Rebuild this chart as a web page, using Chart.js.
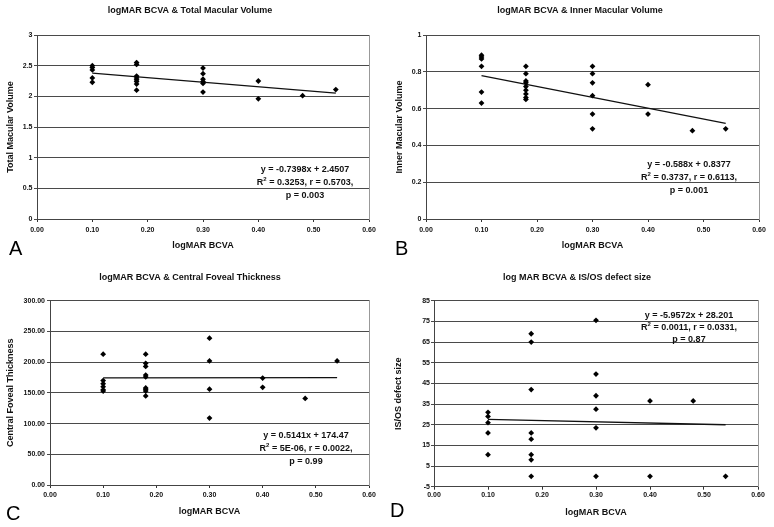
<!DOCTYPE html>
<html>
<head>
<meta charset="utf-8">
<script src="https://cdn.jsdelivr.net/npm/chart.js@4/dist/chart.umd.min.js"></script>
<style>
    body { margin: 0; background: #fff; }
    #wrap { position: relative; width: 774px; height: 527px; background: #fff; overflow: hidden; }
    canvas { position: absolute; }
    .eq {
        position: absolute; width: 160px; text-align: center;
        font: bold 9px 'Liberation Sans', Arial, sans-serif; line-height: 13px; color: #111;
    }
    .eq sup { font-size: 6px; line-height: 0; }
    .letter { position: absolute; font: 20px 'Liberation Sans', Arial, sans-serif; line-height: 20px; color: #000; }
</style>
</head>
<body>
<div id="wrap">
    <canvas id="chartA" width="387" height="263" style="left:0;top:0"></canvas>
    <canvas id="chartB" width="387" height="263" style="left:387px;top:0"></canvas>
    <canvas id="chartC" width="387" height="263" style="left:0;top:264px"></canvas>
    <canvas id="chartD" width="387" height="263" style="left:387px;top:264px"></canvas>

    <div class="eq" style="left:225px;top:163px">y = -0.7398x + 2.4507<br>R<sup>2</sup> = 0.3253, r = 0.5703,<br>p = 0.003</div>
    <div class="eq" style="left:609px;top:158px">y = -0.588x + 0.8377<br>R<sup>2</sup> = 0.3737, r = 0.6113,<br>p = 0.001</div>
    <div class="eq" style="left:226px;top:429px">y = 0.5141x + 174.47<br>R<sup>2</sup> = 5E-06, r = 0.0022,<br>p = 0.99</div>
    <div class="eq" style="left:609px;top:309px;line-height:12px">y = -5.9572x + 28.201<br>R<sup>2</sup> = 0.0011, r = 0.0331,<br>p = 0.87</div>

    <div class="letter" style="left:9px;top:238px">A</div>
    <div class="letter" style="left:395px;top:238px">B</div>
    <div class="letter" style="left:6px;top:503px">C</div>
    <div class="letter" style="left:390px;top:500px">D</div>
</div>
<script>
const xA = [0.10,0.10,0.10,0.10,0.10, 0.18,0.18,0.18,0.18,0.18,0.18,0.18,0.18, 0.30,0.30,0.30,0.30,0.30,0.30, 0.40,0.40, 0.48, 0.54]
const totalMacularVolume = [2.50,2.47,2.43,2.30,2.23, 2.55,2.52,2.33,2.30,2.27,2.24,2.20,2.10, 2.46,2.37,2.28,2.24,2.21,2.07, 2.25,1.96, 2.01, 2.11]

const xB = [0.10,0.10,0.10,0.10,0.10,0.10, 0.18,0.18,0.18,0.18,0.18,0.18,0.18,0.18,0.18, 0.30,0.30,0.30,0.30,0.30,0.30, 0.40,0.40, 0.48, 0.54]
const innerMacularVolume = [0.89,0.88,0.87,0.83,0.69,0.63, 0.83,0.79,0.75,0.74,0.72,0.70,0.68,0.66,0.65, 0.83,0.79,0.74,0.67,0.57,0.49, 0.73,0.57, 0.48, 0.49]

const xC = [0.10,0.10,0.10,0.10,0.10,0.10, 0.18,0.18,0.18,0.18,0.18,0.18,0.18,0.18,0.18, 0.30,0.30,0.30,0.30, 0.40,0.40, 0.48, 0.54]
const centralFovealThickness = [213,170,165,160,155,153, 213,198,193,179,176,158,156,153,145, 239,202,156,109, 174,159, 141, 202]

const xD = [0.10,0.10,0.10,0.10,0.10, 0.18,0.18,0.18,0.18,0.18,0.18,0.18,0.18, 0.30,0.30,0.30,0.30,0.30,0.30, 0.40,0.40, 0.48, 0.54]
const defectSize = [31,29,26,21,10.5, 69,65,42,21,18,10.5,8,0, 75.5,49.5,39,32.5,23.5,0, 36.5,0, 36.5, 0]

// linear trendline end points (x = 0.10 and x = 0.54)
const trendX = [0.10, 0.54]
const trendA = [2.377, 2.051]
const trendB = [0.779, 0.520]
const trendC = [174.52, 174.75]
const trendD = [27.61, 24.98]

const FONT = "'Liberation Sans', Arial, sans-serif"

function toPoints(xs, ys) {
    return xs.map((x, i) => ({x: x, y: ys[i]}))
}

function makePanel(id, p) {
    return new Chart(document.getElementById(id), {
        type: 'scatter',
        data: {
            datasets: [
                {
                    data: toPoints(p.x, p.y),
                    pointStyle: 'rectRot',
                    pointRadius: 2.9,
                    backgroundColor: '#000',
                    borderColor: '#000',
                    borderWidth: 0
                },
                {
                    type: 'line',
                    data: toPoints(trendX, p.trend),
                    borderColor: '#111',
                    borderWidth: 1.3,
                    pointRadius: 0,
                    fill: false
                }
            ]
        },
        options: {
            responsive: false,
            animation: false,
            devicePixelRatio: 1,
            layout: { padding: { left: 0, right: p.padRight, top: 0, bottom: 0 } },
            plugins: {
                legend: { display: false },
                tooltip: { enabled: false },
                title: {
                    display: true,
                    text: p.title,
                    color: '#111',
                    font: { family: FONT, size: 9, weight: 'bold' },
                    padding: { top: p.titleTop, bottom: p.titleBottom }
                }
            },
            scales: {
                x: {
                    type: 'linear',
                    min: 0, max: 0.6,
                    afterFit: s => { s.height = p.xHeight },
                    grid: { drawOnChartArea: false, drawTicks: true, tickLength: 3, color: '#333' },
                    border: { color: '#444', width: 1 },
                    ticks: {
                        stepSize: 0.1, padding: p.xTickPad, color: '#111',
                        font: { family: FONT, size: 7, weight: 'bold' },
                        callback: v => v.toFixed(2)
                    },
                    title: {
                        display: true, text: 'logMAR BCVA', color: '#111',
                        font: { family: FONT, size: 9, weight: 'bold' },
                        padding: { top: 0, bottom: p.xTitleBottom }
                    }
                },
                y: {
                    min: p.yMin, max: p.yMax,
                    afterFit: s => { s.width = p.yWidth },
                    grid: { drawTicks: true, tickLength: 3, color: '#4a4a4a', lineWidth: 1 },
                    border: { color: '#444', width: 1 },
                    ticks: {
                        stepSize: p.yStep, padding: p.yTickPad, color: '#111',
                        font: { family: FONT, size: 7, weight: 'bold' },
                        callback: p.yFormat
                    },
                    title: {
                        display: true, text: p.yTitle, color: '#111',
                        font: { family: FONT, size: 9, weight: 'bold' },
                        padding: { top: p.yTitleTop, bottom: 0 }
                    }
                },
                // empty right axis, only draws the grey right edge of the plot
                y2: {
                    position: 'right',
                    afterFit: s => { s.width = p.rightWidth },
                    grid: { display: false },
                    ticks: { display: false },
                    border: { display: true, color: '#999', width: 1 }
                }
            }
        }
    })
}

makePanel('chartA', {
    x: xA, y: totalMacularVolume, trend: trendA,
    title: 'logMAR BCVA & Total Macular Volume',
    yTitle: 'Total Macular Volume',
    yMin: 0, yMax: 3, yStep: 0.5, yFormat: v => String(v),
    padRight: 7, rightWidth: 11, yWidth: 37, xHeight: 44,
    titleTop: 5.6, titleBottom: 18.6, xTickPad: 4, xTitleBottom: 11.6,
    yTickPad: 1.5, yTitleTop: 5.6
})

makePanel('chartB', {
    x: xB, y: innerMacularVolume, trend: trendB,
    title: 'logMAR BCVA & Inner Macular Volume',
    yTitle: 'Inner Macular Volume',
    yMin: 0, yMax: 1, yStep: 0.2, yFormat: v => String(Math.round(v * 10) / 10),
    padRight: 1, rightWidth: 14, yWidth: 39, xHeight: 44,
    titleTop: 5.6, titleBottom: 18.6, xTickPad: 4, xTitleBottom: 11.6,
    yTickPad: 1.5, yTitleTop: 7.6
})

makePanel('chartC', {
    x: xC, y: centralFovealThickness, trend: trendC,
    title: 'logMAR BCVA & Central Foveal Thickness',
    yTitle: 'Central Foveal Thickness',
    yMin: 0, yMax: 300, yStep: 50, yFormat: v => v.toFixed(2),
    padRight: 7, rightWidth: 11, yWidth: 50, xHeight: 42,
    titleTop: 7.9, titleBottom: 18, xTickPad: 3, xTitleBottom: 9.6,
    yTickPad: 2, yTitleTop: 5.6
})

makePanel('chartD', {
    x: xD, y: defectSize, trend: trendD,
    title: 'log MAR BCVA & IS/OS defect size',
    yTitle: 'IS/OS defect size',
    yMin: -5, yMax: 85, yStep: 10, yFormat: v => String(v),
    padRight: 7, rightWidth: 9, yWidth: 47, xHeight: 40.3,
    titleTop: 8.6, titleBottom: 17.3, xTickPad: 1.5, xTitleBottom: 8.6,
    yTickPad: 1, yTitleTop: 6.6
})
</script>
</body>
</html>
